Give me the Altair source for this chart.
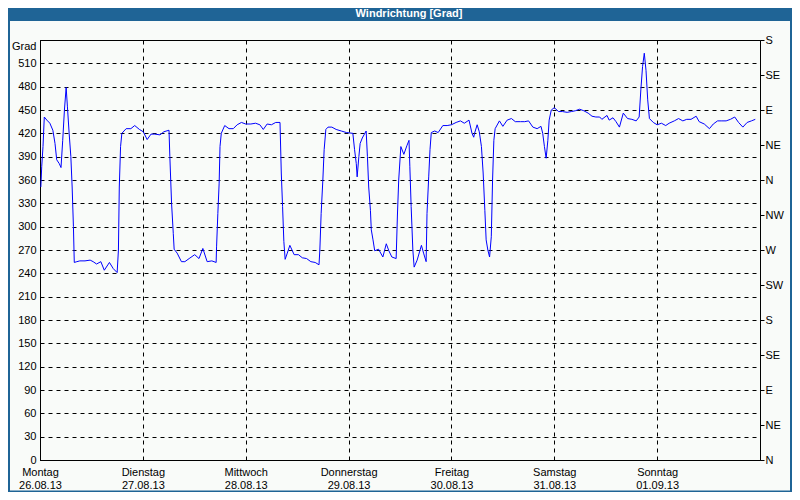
import json
import altair as alt
import pandas as pd

# ---- data (hours since Monday 00:00, degrees) ----
hours = [0.2, 0.4, 0.7, 1.0, 1.6, 2.3, 3.0, 3.5, 3.9, 4.5, 4.9, 5.3, 5.7, 6.1, 6.4, 6.8, 7.2, 7.5, 7.8, 8.0,
         8.6, 9.3, 10.5, 11.7, 12.4, 13.2, 14.2, 15.0, 16.2, 17.1, 18.0, 18.3, 18.5, 18.8, 19.1, 20.1, 21.2,
         22.1, 23.2, 24.1, 25.0, 25.9, 26.8, 28.0, 28.9, 30.1, 30.3, 30.7, 31.1, 31.3, 32.0, 33.0, 33.8,
         34.8, 36.1, 37.1, 38.0, 39.0, 40.1, 41.1, 41.2, 41.5, 41.8, 42.0, 42.3, 43.1, 44.1, 45.1, 46.0,
         47.0, 48.0, 49.2, 50.3, 51.3, 52.1, 53.0, 54.0, 55.0, 56.0, 56.3, 56.6, 56.9, 57.2, 57.7, 58.3,
         59.3, 60.3, 61.2, 62.2, 63.2, 64.2, 65.1, 65.3, 65.6, 66.0, 66.3, 66.7, 67.2,
         68.1, 69.1, 70.3, 71.5, 73.0, 73.4, 73.8, 74.0, 74.4, 74.7, 75.2, 75.6, 76.1, 76.4, 76.7, 77.1,
         77.3, 77.7, 78.1, 79.0, 80.0, 80.8, 81.4, 82.1, 83.1, 83.4, 83.7, 84.2, 84.9, 85.6, 86.1, 86.3,
         86.6, 87.0, 87.3, 88.0, 89.0, 89.5, 90.1, 90.3, 90.7, 91.0, 91.3, 92.1, 92.9, 94.0, 95.0, 96.0,
         97.1, 98.1, 99.0, 100.1, 100.8,
         101.2, 101.4, 102.0, 102.5, 103.0, 103.4, 103.8, 104.1, 104.5, 104.9, 105.3, 105.6, 105.9, 106.2,
         107.2, 108.0, 109.0, 110.0, 110.9, 112.1, 113.1, 114.0, 115.0, 116.0, 116.9, 117.3, 117.7, 118.1,
         118.5, 118.8, 119.3, 120.0, 121.0, 121.9, 123.0, 124.0, 124.9, 125.9, 126.9, 127.9, 128.8, 129.7,
         130.6, 131.1, 132.3, 132.8, 133.7, 134.4,
         135.2, 136.1, 137.1, 138.1, 139.1, 139.8, 140.2, 140.6, 141.0, 141.4, 141.8, 142.2, 143.1, 144.0,
         145.0, 146.0, 146.8, 148.0, 149.0, 150.0, 150.9, 151.9, 153.1, 153.8, 155.0, 156.2, 157.1, 158.1,
         159.1, 160.1, 161.1, 162.1, 163.0, 164.0, 165.0, 166.0, 166.9]

degrees = [351, 377, 403, 441, 437, 433, 424, 407, 386, 381, 376, 411, 450, 479, 454, 420, 390, 351, 300, 254,
           255, 256, 256, 257, 255, 252, 255, 244, 254, 246, 241, 270, 351, 403, 420, 426, 426,
           430, 425, 422, 412, 419, 419, 418, 422, 424, 390, 330, 291, 271, 266, 255, 255,
           259, 264, 259, 272, 255, 256, 254, 274, 317, 356, 403, 420, 430, 426, 426, 431,
           434, 432, 432, 433, 431, 425, 432, 431, 434, 434, 369, 326, 281, 258, 266, 276,
           264, 264, 260, 259, 255, 254, 251, 270, 317, 360, 399, 425, 428,
           428, 425, 423, 421, 420, 399, 381, 364, 390, 407, 414, 418, 423, 390, 351, 321,
           296, 283, 269, 271, 261, 278, 269, 261, 259, 315, 360, 403, 393, 404, 411, 377,
           326, 270, 248, 257, 276, 266, 255, 317, 364, 399, 421, 423, 421, 430, 430, 431,
           434, 436, 433, 437, 420,
           415, 420, 431, 422, 403, 369, 321, 283, 270, 261, 287, 360, 411, 426,
           436, 429, 437, 439, 435, 435, 435, 436, 428, 426, 429, 420, 403, 388,
           411, 437, 450, 453, 448, 448, 447, 448, 449, 451, 449, 446, 442, 441,
           441, 438, 443, 437, 440, 435,
           428, 446, 439, 438, 436, 441, 476, 506, 523, 501, 463, 439, 434, 431,
           433, 430, 433, 436, 439, 436, 438, 438, 442, 435, 432, 426, 432, 436,
           436, 436, 438, 441, 434, 428, 434, 436, 438]

day_names = ["Montag", "Dienstag", "Mittwoch", "Donnerstag", "Freitag", "Samstag", "Sonntag"]
day_dates = ["26.08.13", "27.08.13", "28.08.13", "29.08.13", "30.08.13", "31.08.13", "01.09.13"]
left_ticks = list(range(0, 541, 30))
right_ticks = list(range(0, 541, 45))
compass = ["N", "NE", "E", "SE", "S", "SW", "W", "NW"]
title_text = "Windrichtung [Grad]"

df = pd.DataFrame({"h": hours, "deg": degrees})
one = pd.DataFrame({"a": [0]})

FONT = "Liberation Sans"
BLUE_BAR = "#1f6496"

xs = alt.Scale(domain=[0, 168], nice=False, zero=False)
ys = alt.Scale(domain=[0, 540], nice=False, zero=False)

x_axis = alt.Axis(
    values=[i * 24 for i in range(7)],
    labelExpr="[" + json.dumps(day_names) + "[datum.value/24], " + json.dumps(day_dates) + "[datum.value/24]]",
    grid=True, gridColor="black", gridDash=[4, 4], gridOpacity=1, gridWidth=1,
    ticks=False, domainColor="black", labelColor="black", labelFont=FONT, labelFontSize=11,
    labelPadding=6, labelLineHeight=13, labelBaseline="top", labelAlign="center",
    labelOverlap=False, labelFlush=False, title=None,
)
x_enc = alt.X("h:Q", scale=xs, axis=x_axis)

left_axis = alt.Axis(
    orient="left", values=left_ticks,
    labelExpr="datum.value == 540 ? 'Grad' : datum.label",
    labelBaseline={"condition": {"test": "datum.value == 540", "value": "top"}, "value": "middle"},
    grid=True, gridColor="black", gridDash=[4, 4], gridOpacity=1, gridWidth=1,
    ticks=False, domainColor="black", labelColor="black", labelFont=FONT, labelFontSize=11,
    labelPadding=4, labelOverlap=False, labelFlush=False, title=None,
)

right_axis = alt.Axis(
    orient="right", values=right_ticks,
    labelExpr=json.dumps(compass) + "[(datum.value/45) % 8]",
    grid=False, ticks=True, tickSize=4, tickColor="black", domainColor="black",
    labelColor="black", labelFont=FONT, labelFontSize=11, labelPadding=1,
    labelAlign="left", labelOverlap=False, labelFlush=False, title=None,
)

line = alt.Chart(df).mark_line(color="#0000ff", strokeWidth=1).encode(
    x=x_enc, y=alt.Y("deg:Q", scale=ys, axis=left_axis), order="h:Q"
)
right = alt.Chart(df).mark_line(strokeOpacity=0).encode(
    x=x_enc, y=alt.Y("deg:Q", scale=ys, axis=right_axis), order="h:Q"
)

bar = alt.Chart(one).mark_rect(color=BLUE_BAR).encode(
    x=alt.value(-32), x2=alt.value(752), y=alt.value(-32), y2=alt.value(-19)
)
title = alt.Chart(one).mark_text(
    color="white", font=FONT, fontSize=11, fontWeight="bold", align="center", baseline="middle"
).encode(x=alt.value(369), y=alt.value(-26), text=alt.value(title_text))
border_r = alt.Chart(one).mark_rule(color=BLUE_BAR, strokeWidth=2).encode(
    x=alt.value(751), y=alt.value(-32), y2=alt.value(452)
)
border_l = alt.Chart(one).mark_rule(color=BLUE_BAR, strokeWidth=2).encode(
    x=alt.value(-31), y=alt.value(-32), y2=alt.value(452)
)
border_b = alt.Chart(one).mark_rule(color=BLUE_BAR, strokeWidth=1.5).encode(
    x=alt.value(-32), x2=alt.value(752), y=alt.value(451.2)
)

chart = alt.layer(line, right, bar, title, border_r, border_l, border_b).resolve_axis(
    y="independent"
).properties(
    width=720, height=420,
    autosize=alt.AutoSizeParams(type="none"),
    padding={"left": 32, "top": 32, "right": 32, "bottom": 32},
    background="#f9fbf9",
).configure_view(stroke="black", strokeWidth=1)

chart.save("out.html", embed_options={"renderer": "svg", "actions": False})
